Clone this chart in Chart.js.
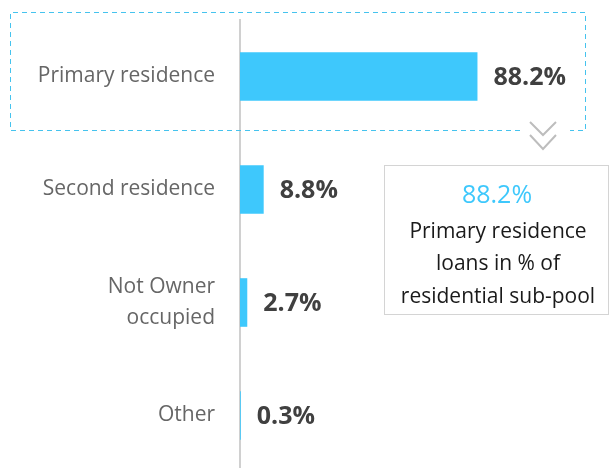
<!DOCTYPE html>
<html>
<head>
<meta charset="UTF-8">
<script src="https://cdn.jsdelivr.net/npm/chart.js"></script>
<style>
    body { margin: 0; background: #fff; overflow: hidden; }
    #wrap { width: 610px; height: 472px; position: relative; }
</style>
</head>
<body>
<div id="wrap"><canvas id="chart"></canvas></div>
<script>
// Data
const categories = ['Primary residence', 'Second residence', ['Not Owner', 'occupied'], 'Other'];
const shares = [88.2, 8.8, 2.7, 0.3];
const valueLabels = ['88.2%', '8.8%', '2.7%', '0.3%'];
const calloutValue = '88.2%';
const calloutLines = ['Primary residence', 'loans in % of', 'residential sub-pool'];

const FONT = '"Open Sans", sans-serif';
const CYAN = '#3ec8fc';

// value labels next to each bar
const valueLabelPlugin = {
    id: 'valueLabels',
    afterDatasetsDraw(chart) {
        const ctx = chart.ctx;
        const meta = chart.getDatasetMeta(0);
        ctx.save();
        ctx.font = 'bold 25px ' + FONT;
        ctx.fillStyle = '#404040';
        ctx.textBaseline = 'middle';
        ctx.textAlign = 'left';
        meta.data.forEach((bar, i) => {
            ctx.fillText(valueLabels[i], bar.x + 16, bar.y + 1);
        });
        ctx.restore();
    }
};

// dashed highlight box, chevron and callout
const calloutPlugin = {
    id: 'callout',
    afterDraw(chart) {
        const ctx = chart.ctx;
        ctx.save();

        // dashed box around first row
        ctx.strokeStyle = '#45c3ee';
        ctx.lineWidth = 1;
        ctx.setLineDash([5, 4]);
        ctx.beginPath();
        ctx.moveTo(520, 130.5);
        ctx.lineTo(10.5, 130.5);
        ctx.lineTo(10.5, 12.5);
        ctx.lineTo(585.5, 12.5);
        ctx.lineTo(585.5, 130.5);
        ctx.lineTo(570, 130.5);
        ctx.stroke();
        ctx.setLineDash([]);

        // chevron
        ctx.strokeStyle = '#bdbdbd';
        ctx.lineWidth = 2;
        [[122, 135], [135, 149]].forEach(([y0, y1]) => {
            ctx.beginPath();
            ctx.moveTo(530, y0);
            ctx.lineTo(543, y1);
            ctx.lineTo(556, y0);
            ctx.stroke();
        });

        // callout box
        ctx.strokeStyle = '#d4d4d4';
        ctx.lineWidth = 1;
        ctx.strokeRect(384.5, 165.5, 224, 149);

        ctx.textAlign = 'center';
        ctx.textBaseline = 'middle';
        ctx.fillStyle = CYAN;
        ctx.font = '25px ' + FONT;
        ctx.fillText(calloutValue, 497, 196);
        ctx.fillStyle = '#1a1a1a';
        ctx.font = '21px ' + FONT;
        calloutLines.forEach((line, i) => {
            ctx.fillText(line, 498, 232 + i * 32.5);
        });
        ctx.restore();
    }
};

new Chart(document.getElementById('chart'), {
    type: 'bar',
    data: {
        labels: categories,
        datasets: [{
            data: shares,
            backgroundColor: CYAN,
            borderWidth: 0,
            barPercentage: 0.86,
            categoryPercentage: 0.5
        }]
    },
    options: {
        indexAxis: 'y',
        responsive: true,
        maintainAspectRatio: false,
        animation: false,
        layout: { padding: { top: 20, right: 20, left: 0, bottom: 0 } },
        plugins: {
            legend: { display: false },
            tooltip: { enabled: false }
        },
        scales: {
            x: {
                display: false,
                min: 0,
                max: 130
            },
            y: {
                afterFit(scale) {
                    scale.width = 240;
                    scale.paddingTop = 0;
                    scale.paddingBottom = 0;
                },
                grid: { display: false, drawTicks: false },
                border: { display: true, color: '#d0d0d0', width: 2 },
                ticks: {
                    padding: 25,
                    color: '#666666',
                    font: { family: FONT, size: 21, lineHeight: 1.45 }
                }
            }
        }
    },
    plugins: [valueLabelPlugin, calloutPlugin]
});
</script>
</body>
</html>
